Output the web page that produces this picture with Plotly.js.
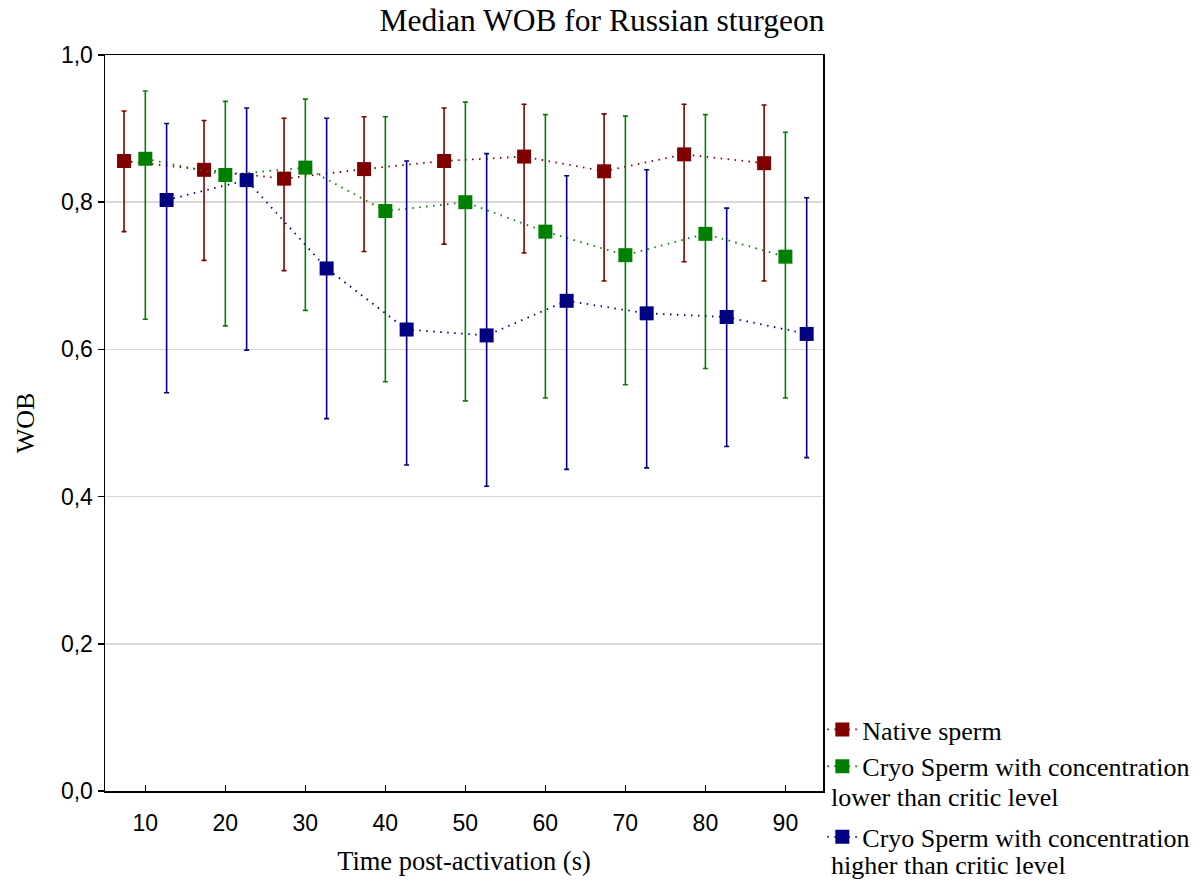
<!DOCTYPE html>
<html>
<head>
<meta charset="utf-8">
<script src="https://cdn.plot.ly/plotly-3.0.1.min.js"></script>
<style>html,body{margin:0;padding:0;background:#fff;}#chart{width:1204px;height:882px;}</style>
</head>
<body>
<div id="chart"></div>
<script>
// Time points (s)
const times = [10, 20, 30, 40, 50, 60, 70, 80, 90];

// Native sperm: median, upper and lower whisker
const nativeMedian = [0.856, 0.844, 0.832, 0.845, 0.856, 0.862, 0.842, 0.865, 0.853];
const nativeUpper  = [0.924, 0.911, 0.914, 0.916, 0.928, 0.933, 0.920, 0.933, 0.932];
const nativeLower  = [0.760, 0.721, 0.707, 0.733, 0.743, 0.731, 0.693, 0.719, 0.693];

// Cryo sperm, concentration lower than critic level
const lowMedian = [0.859, 0.837, 0.847, 0.788, 0.800, 0.760, 0.728, 0.757, 0.726];
const lowUpper  = [0.951, 0.937, 0.940, 0.916, 0.936, 0.919, 0.917, 0.919, 0.895];
const lowLower  = [0.641, 0.632, 0.653, 0.556, 0.530, 0.534, 0.552, 0.574, 0.534];

// Cryo sperm, concentration higher than critic level
const highMedian = [0.803, 0.830, 0.710, 0.627, 0.619, 0.666, 0.649, 0.644, 0.621];
const highUpper  = [0.907, 0.928, 0.914, 0.856, 0.866, 0.836, 0.844, 0.792, 0.806];
const highLower  = [0.541, 0.599, 0.506, 0.443, 0.414, 0.437, 0.439, 0.468, 0.453];

// Legend labels (first line in legend, continuation line below the symbol)
const seriesNames = ['Native sperm', 'Cryo Sperm with concentration', 'Cryo Sperm with concentration'];
const seriesNames2 = ['', 'lower than critic level', 'higher than critic level'];
const seriesColors = ['#800000', '#008000', '#000080'];
const xOffsets = [-2.66, 0, 2.66];

function makeTrace(median, upper, lower, idx) {
  const c = seriesColors[idx];
  return {
    type: 'scatter',
    mode: 'lines+markers',
    name: seriesNames[idx] + (seriesNames2[idx] ? '<br>\u00a0' : ''),
    x: times.map(t => t + xOffsets[idx]),
    y: median,
    line: {color: c, width: 1.8, dash: '1.5px,5.5px'},
    marker: {symbol: 'square', size: 14, color: c, line: {width: 0}},
    error_y: {
      type: 'data', symmetric: false,
      array: upper.map((u, i) => u - median[i]),
      arrayminus: lower.map((l, i) => median[i] - l),
      color: c, thickness: 1.6, width: 2.5
    }
  };
}

const data = [
  makeTrace(nativeMedian, nativeUpper, nativeLower, 0),
  makeTrace(lowMedian, lowUpper, lowLower, 1),
  makeTrace(highMedian, highUpper, highLower, 2)
];

const serif = 'Liberation Serif, Times New Roman, serif';
const sans = 'Liberation Sans, Arial, sans-serif';

const layout = {
  width: 1204, height: 882,
  paper_bgcolor: '#ffffff', plot_bgcolor: '#ffffff',
  separators: ', ',
  margin: {l: 105, r: 381, t: 55, b: 91, autoexpand: false},
  title: {
    text: 'Median WOB for Russian sturgeon',
    x: 0.5, xref: 'container', xanchor: 'center',
    y: 0.977, yref: 'container', yanchor: 'middle',
    font: {family: serif, size: 31.5, color: '#000'}
  },
  font: {family: serif, color: '#000'},
  xaxis: {
    range: [4.96, 94.7],
    tickvals: times,
    ticktext: times.map(String),
    ticks: 'inside', ticklen: 6, tickwidth: 1.5, tickcolor: '#000',
    showline: true, linecolor: '#000', linewidth: 1.5, mirror: true,
    showgrid: false, zeroline: false, automargin: false,
    tickfont: {family: sans, size: 23, color: '#000'},
    ticklabelstandoff: 11,
    title: {text: 'Time post-activation (s)', standoff: 16,
            font: {family: serif, size: 26.5, color: '#000'}}
  },
  yaxis: {
    range: [0, 1],
    dtick: 0.2, tick0: 0,
    tickformat: '.1f',
    ticks: 'outside', ticklen: 6, tickwidth: 1.5, tickcolor: '#000',
    showline: true, linecolor: '#000', linewidth: 1.5, mirror: true,
    showgrid: true, gridcolor: '#d9d9d9', gridwidth: 1.5,
    zeroline: false, automargin: false,
    tickfont: {family: sans, size: 23, color: '#000'},
    title: {text: 'WOB', standoff: 19,
            font: {family: serif, size: 26, color: '#000'}}
  },
  yaxis2: {
    overlaying: 'y', side: 'right', anchor: 'x',
    range: [0, 1], dtick: 0.2, tick0: 0,
    ticks: 'inside', ticklen: 6, tickwidth: 1.5, tickcolor: '#000',
    showticklabels: false, showgrid: false, zeroline: false, showline: false
  },
  showlegend: true,
  legend: {
    xref: 'container', yref: 'container',
    x: 0.683, xanchor: 'left', y: 0.1995, yanchor: 'top',
    font: {family: serif, size: 26, color: '#000'},
    bgcolor: 'rgba(0,0,0,0)', borderwidth: 0,
    tracegroupgap: 0, itemwidth: 30, valign: 'top'
  },
  annotations: [
    {xref: 'paper', yref: 'paper', x: 1.008, y: -0.0082, xanchor: 'left', yanchor: 'middle',
     text: seriesNames2[1], showarrow: false, font: {family: serif, size: 26, color: '#000'}},
    {xref: 'paper', yref: 'paper', x: 1.008, y: -0.1019, xanchor: 'left', yanchor: 'middle',
     text: seriesNames2[2], showarrow: false, font: {family: serif, size: 26, color: '#000'}}
  ]
};

Plotly.newPlot('chart', data, layout, {displayModeBar: false, staticPlot: true});
</script>
</body>
</html>
